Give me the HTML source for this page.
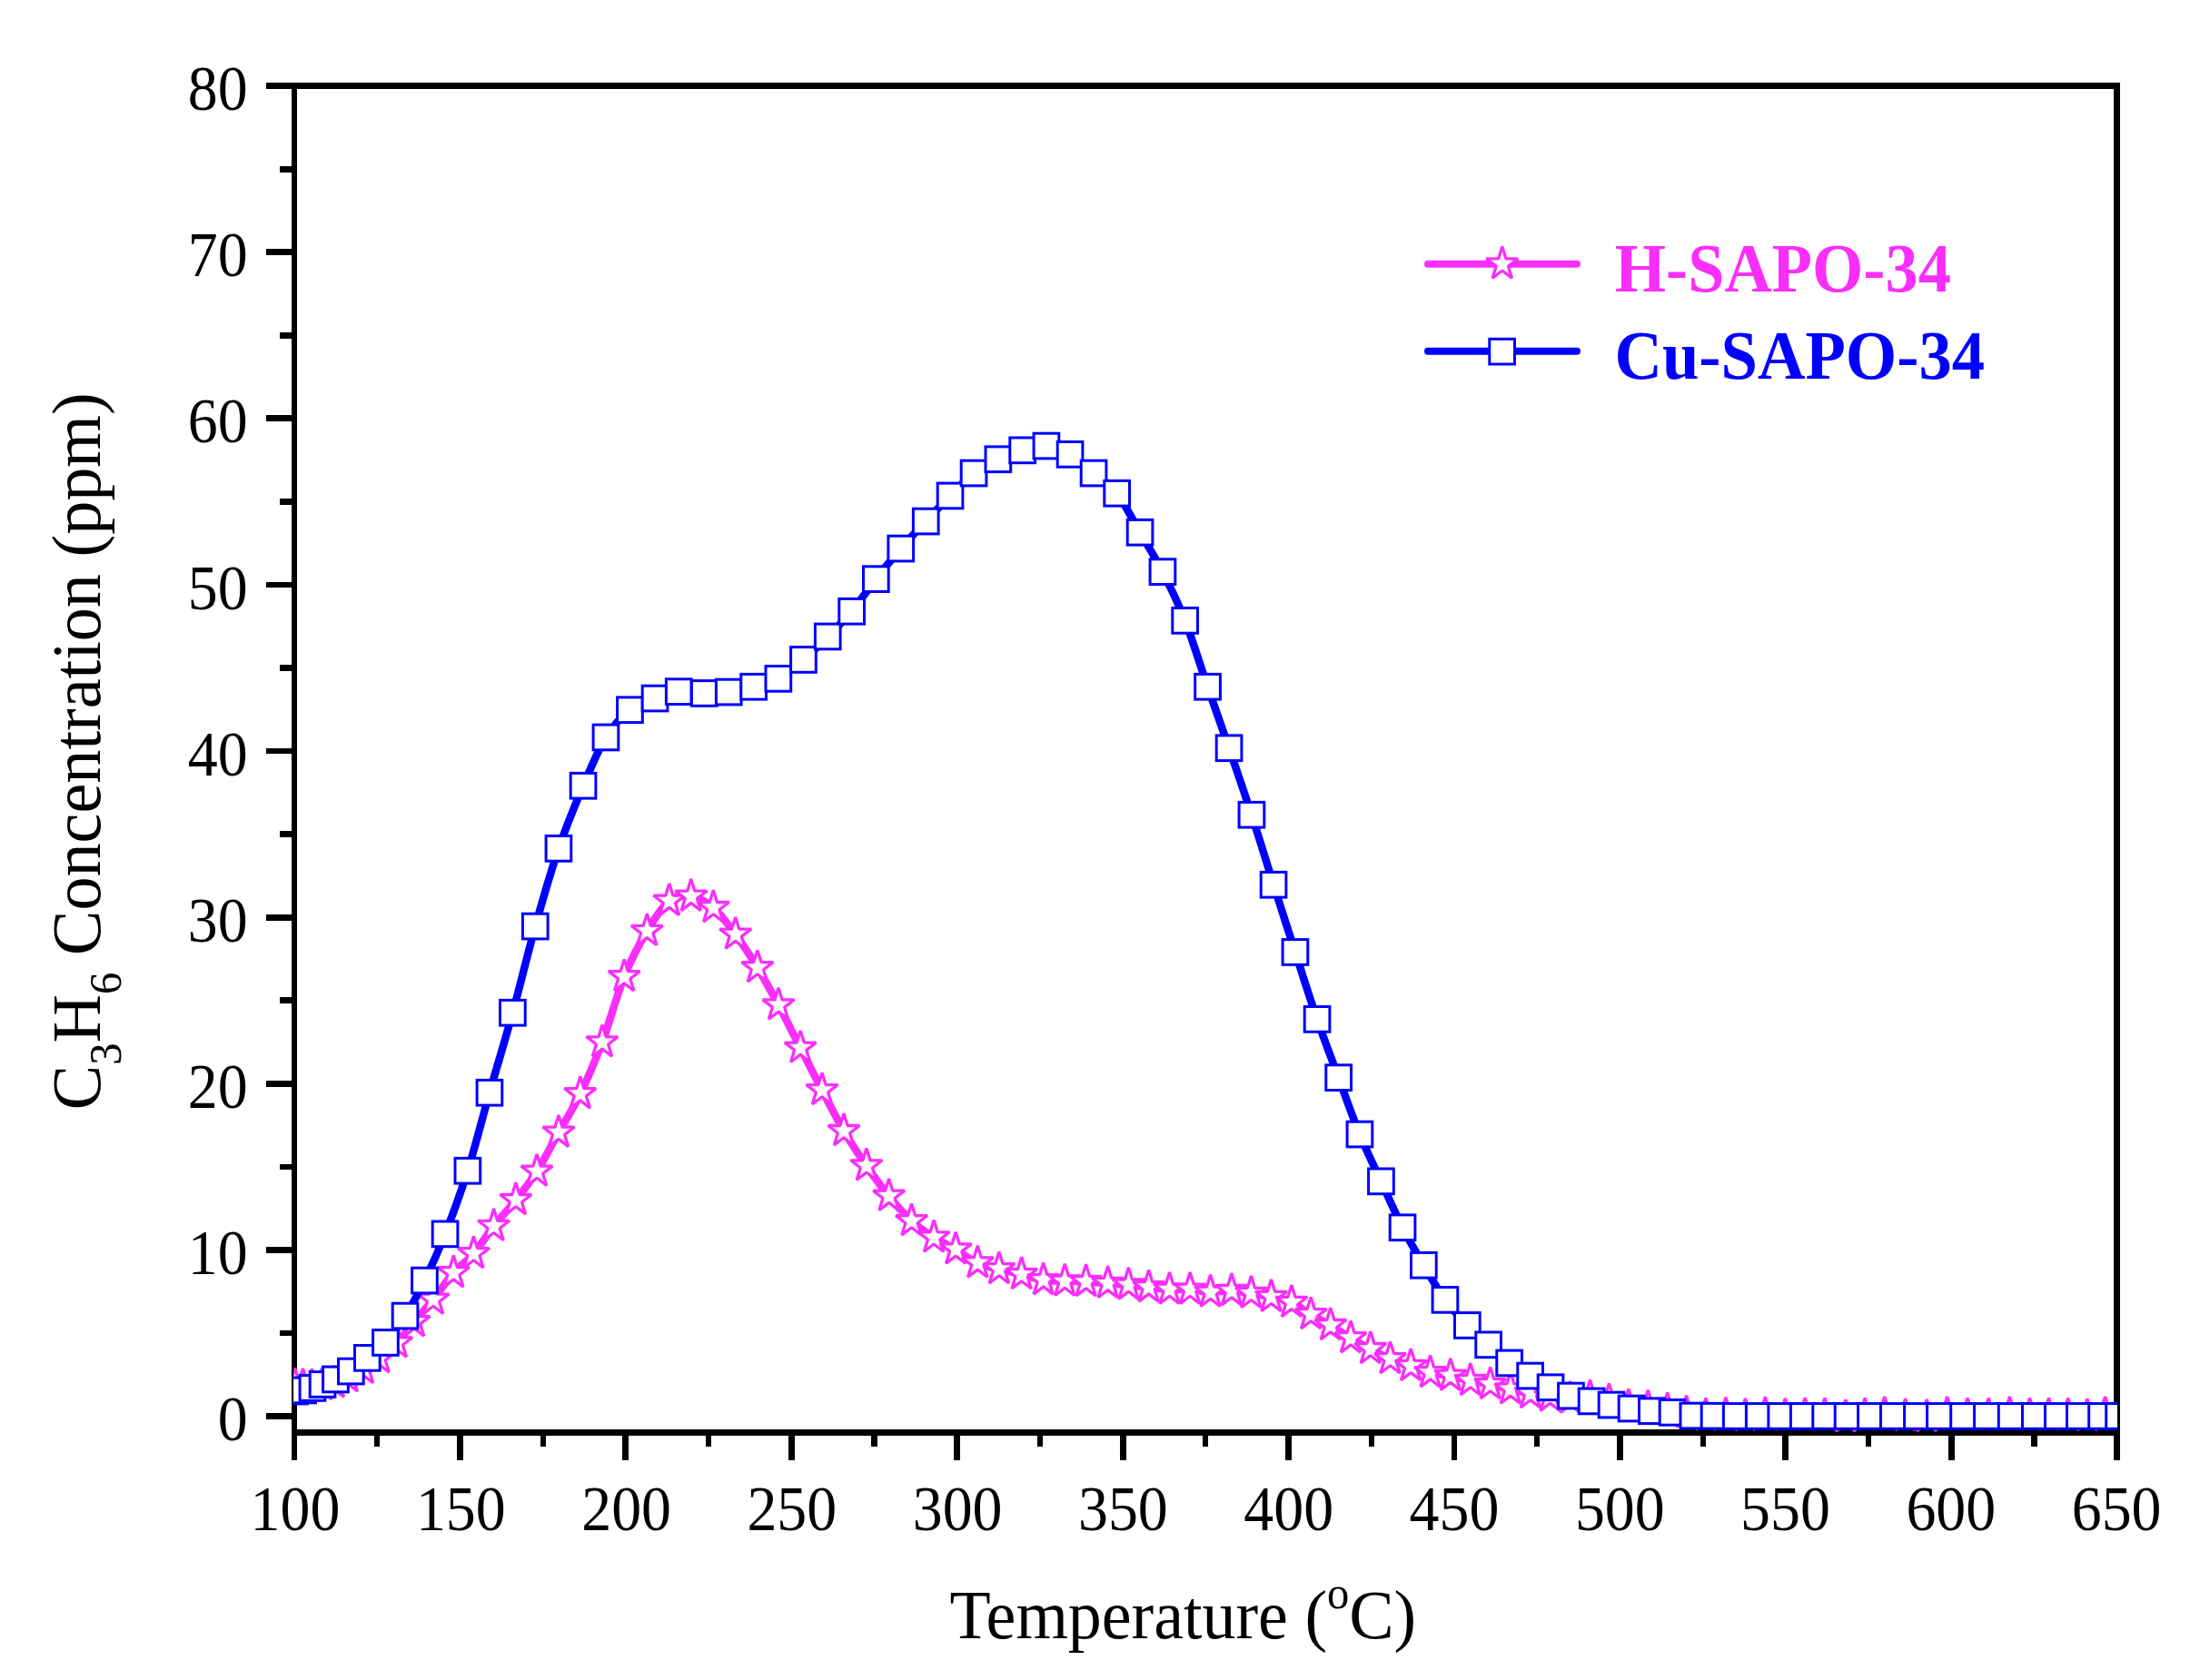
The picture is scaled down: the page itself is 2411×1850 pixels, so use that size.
<!DOCTYPE html>
<html lang="en"><head><meta charset="utf-8"><title>C3H6 Concentration vs Temperature</title>
<style>html,body{margin:0;padding:0;background:#fff}svg{display:block}text{font-family:"Liberation Serif","Times New Roman",serif;fill:#000}</style>
</head><body>
<svg width="2411" height="1850" viewBox="0 0 2411 1850" role="img" aria-label="C3H6 concentration versus temperature for H-SAPO-34 and Cu-SAPO-34">
<rect width="2411" height="1850" fill="#fff"/>
<defs>
<clipPath id="plot"><rect x="323.5" y="94" width="2007.5" height="1487.0"/></clipPath>
</defs>
<g fill="#000" shape-rendering="crispEdges">
<rect x="293" y="91" width="2041.0" height="7"/>
<rect x="321" y="1574.3" width="2013.0" height="6.8"/>
<rect x="321" y="91" width="6" height="1516.5"/>
<rect x="2327" y="91" width="7" height="1516.5"/>
<rect x="293" y="1556.0" width="30" height="6.8"/>
<rect x="308" y="1464.6" width="15" height="6.6"/>
<rect x="293" y="1372.9" width="30" height="6.8"/>
<rect x="308" y="1281.5" width="15" height="6.6"/>
<rect x="293" y="1189.8" width="30" height="6.8"/>
<rect x="308" y="1098.4" width="15" height="6.6"/>
<rect x="293" y="1006.7" width="30" height="6.8"/>
<rect x="308" y="915.3" width="15" height="6.6"/>
<rect x="293" y="823.6" width="30" height="6.8"/>
<rect x="308" y="732.2" width="15" height="6.6"/>
<rect x="293" y="640.5" width="30" height="6.8"/>
<rect x="308" y="549.1" width="15" height="6.6"/>
<rect x="293" y="457.4" width="30" height="6.8"/>
<rect x="308" y="366.0" width="15" height="6.6"/>
<rect x="293" y="274.3" width="30" height="6.8"/>
<rect x="308" y="182.9" width="15" height="6.6"/>
<rect x="412.1" y="1578" width="6.2" height="14.5"/>
<rect x="503.0" y="1578" width="6.8" height="29.5"/>
<rect x="594.5" y="1578" width="6.2" height="14.5"/>
<rect x="685.4" y="1578" width="6.8" height="29.5"/>
<rect x="776.9" y="1578" width="6.2" height="14.5"/>
<rect x="867.9" y="1578" width="6.8" height="29.5"/>
<rect x="959.4" y="1578" width="6.2" height="14.5"/>
<rect x="1050.3" y="1578" width="6.8" height="29.5"/>
<rect x="1141.8" y="1578" width="6.2" height="14.5"/>
<rect x="1232.7" y="1578" width="6.8" height="29.5"/>
<rect x="1324.2" y="1578" width="6.2" height="14.5"/>
<rect x="1415.1" y="1578" width="6.8" height="29.5"/>
<rect x="1506.6" y="1578" width="6.2" height="14.5"/>
<rect x="1597.5" y="1578" width="6.8" height="29.5"/>
<rect x="1689.0" y="1578" width="6.2" height="14.5"/>
<rect x="1779.9" y="1578" width="6.8" height="29.5"/>
<rect x="1871.5" y="1578" width="6.2" height="14.5"/>
<rect x="1962.4" y="1578" width="6.8" height="29.5"/>
<rect x="2053.9" y="1578" width="6.2" height="14.5"/>
<rect x="2144.8" y="1578" width="6.8" height="29.5"/>
<rect x="2236.3" y="1578" width="6.2" height="14.5"/>
</g>
<g font-size="69.0" text-anchor="end">
<text transform="translate(272.6,1586.0) scale(0.955,1)">0</text>
<text transform="translate(272.6,1402.9) scale(0.955,1)">10</text>
<text transform="translate(272.6,1219.8) scale(0.955,1)">20</text>
<text transform="translate(272.6,1036.7) scale(0.955,1)">30</text>
<text transform="translate(272.6,853.6) scale(0.955,1)">40</text>
<text transform="translate(272.6,670.5) scale(0.955,1)">50</text>
<text transform="translate(272.6,487.4) scale(0.955,1)">60</text>
<text transform="translate(272.6,304.3) scale(0.955,1)">70</text>
<text transform="translate(272.6,121.2) scale(0.955,1)">80</text>
</g>
<g font-size="69.0" text-anchor="middle">
<text transform="translate(325.0,1685.0) scale(0.955,1)">100</text>
<text transform="translate(507.3,1685.0) scale(0.955,1)">150</text>
<text transform="translate(689.6,1685.0) scale(0.955,1)">200</text>
<text transform="translate(871.8,1685.0) scale(0.955,1)">250</text>
<text transform="translate(1054.1,1685.0) scale(0.955,1)">300</text>
<text transform="translate(1236.4,1685.0) scale(0.955,1)">350</text>
<text transform="translate(1418.7,1685.0) scale(0.955,1)">400</text>
<text transform="translate(1601.0,1685.0) scale(0.955,1)">450</text>
<text transform="translate(1783.3,1685.0) scale(0.955,1)">500</text>
<text transform="translate(1965.5,1685.0) scale(0.955,1)">550</text>
<text transform="translate(2147.8,1685.0) scale(0.955,1)">600</text>
<text transform="translate(2330.1,1685.0) scale(0.955,1)">650</text>
</g>
<text transform="translate(1045.6,1803.6) scale(0.9725,1)" font-size="76">Temperature (<tspan font-size="50" dy="-33">o</tspan><tspan dy="33">C)</tspan></text>
<text transform="translate(110.3,1222.3) rotate(-90) scale(0.9755,1)" font-size="76">C<tspan font-size="50" dy="23">3</tspan><tspan dy="-23">H</tspan><tspan font-size="50" dy="23">6</tspan><tspan dy="-23"> Concentration (ppm)</tspan></text>
<g clip-path="url(#plot)">
<path fill="none" stroke="#F92EFB" stroke-width="8.5" stroke-linejoin="round" d="M324.6 1525.7 C326.1 1525.8 330.4 1526.1 333.5 1526.2 C336.6 1526.3 339.8 1526.7 343.3 1526.6 C346.8 1526.5 350.3 1526.1 354.4 1525.5 C358.5 1524.9 363.1 1524.3 367.8 1522.8 C372.5 1521.3 377.4 1519.0 382.8 1516.4 C388.2 1513.8 394.2 1510.8 400.0 1507.3 C405.8 1503.8 411.5 1500.3 417.6 1495.5 C423.7 1490.7 430.4 1485.4 436.8 1478.7 C443.2 1472.0 449.4 1463.5 456.1 1455.6 C462.8 1447.6 469.8 1440.0 477.0 1431.0 C484.2 1422.0 491.9 1410.0 499.3 1401.6 C506.7 1393.2 514.0 1389.1 521.4 1380.5 C528.8 1371.9 535.9 1360.0 543.6 1350.2 C551.4 1340.4 560.0 1331.4 567.9 1321.4 C575.8 1311.4 583.1 1302.4 591.0 1290.0 C598.9 1277.6 607.0 1261.3 615.0 1247.1 C623.0 1232.9 630.8 1221.2 638.8 1204.6 C646.8 1188.0 654.9 1169.2 663.0 1147.7 C671.1 1126.2 679.0 1095.9 687.2 1075.5 C695.4 1055.1 704.0 1039.2 712.3 1025.3 C720.6 1011.4 728.8 998.5 736.9 992.1 C745.0 985.7 752.7 985.9 760.8 987.1 C768.9 988.3 777.1 992.4 785.3 999.4 C793.4 1006.4 801.6 1018.0 809.7 1029.0 C817.8 1040.0 826.0 1052.5 833.9 1065.5 C841.8 1078.5 849.1 1092.0 857.0 1106.8 C864.9 1121.5 873.2 1138.4 881.2 1154.0 C889.2 1169.6 897.0 1185.3 905.0 1200.5 C913.0 1215.7 920.9 1231.5 929.0 1245.4 C937.1 1259.3 945.6 1271.8 953.9 1283.7 C962.2 1295.7 970.3 1307.0 978.6 1317.1 C986.9 1327.2 995.2 1336.9 1003.5 1344.5 C1011.8 1352.1 1020.0 1357.5 1028.1 1362.7 C1036.2 1367.9 1044.2 1371.1 1052.2 1375.8 C1060.2 1380.5 1068.3 1387.2 1076.3 1390.8 C1084.2 1394.4 1091.9 1395.4 1099.9 1397.5 C1108.0 1399.6 1116.5 1401.4 1124.6 1403.4 C1132.7 1405.4 1140.8 1408.3 1148.7 1409.6 C1156.6 1410.8 1164.4 1410.6 1172.2 1410.9 C1180.0 1411.2 1187.6 1411.0 1195.5 1411.4 C1203.4 1411.8 1211.8 1412.7 1219.6 1413.3 C1227.4 1413.9 1234.9 1414.2 1242.4 1414.9 C1249.9 1415.6 1257.1 1416.8 1264.6 1417.6 C1272.1 1418.4 1279.9 1419.6 1287.5 1420.0 C1295.1 1420.4 1302.6 1419.5 1310.1 1420.0 C1317.6 1420.5 1325.0 1422.7 1332.6 1422.9 C1340.2 1423.1 1348.4 1421.2 1355.9 1421.4 C1363.4 1421.6 1370.1 1423.1 1377.4 1424.2 C1384.7 1425.3 1392.1 1426.5 1399.5 1428.2 C1406.9 1429.9 1414.6 1431.0 1421.9 1434.2 C1429.2 1437.4 1436.1 1443.3 1443.2 1447.5 C1450.3 1451.7 1457.5 1455.1 1464.8 1459.4 C1472.1 1463.8 1479.7 1469.3 1487.0 1473.6 C1494.3 1477.9 1501.5 1481.6 1508.8 1485.4 C1516.0 1489.2 1523.1 1493.3 1530.5 1496.5 C1537.9 1499.7 1545.9 1501.8 1553.2 1504.3 C1560.5 1506.8 1567.3 1509.8 1574.6 1511.6 C1581.9 1513.4 1589.4 1513.6 1596.8 1515.1 C1604.2 1516.6 1611.5 1518.8 1618.8 1520.4 C1626.1 1522.0 1633.3 1522.9 1640.7 1524.5 C1648.1 1526.1 1655.5 1528.1 1662.9 1529.8 C1670.3 1531.5 1677.6 1533.1 1684.9 1534.4 C1692.2 1535.8 1699.3 1537.0 1706.6 1537.9 C1713.9 1538.8 1721.3 1539.9 1728.6 1540.0 C1735.9 1540.1 1743.4 1538.2 1750.5 1538.7 C1757.6 1539.2 1764.3 1541.1 1771.4 1542.7 C1778.5 1544.3 1785.8 1547.4 1792.9 1548.6 C1800.1 1549.8 1807.2 1549.2 1814.3 1549.9 C1821.4 1550.6 1828.7 1551.6 1835.7 1552.6 C1842.8 1553.6 1849.5 1554.9 1856.6 1555.9 C1863.6 1556.9 1870.8 1558.3 1878.0 1558.6 C1885.2 1558.9 1892.8 1557.7 1900.0 1557.8 C1907.2 1557.9 1914.2 1559.2 1921.4 1559.1 C1928.6 1559.0 1936.1 1557.3 1943.4 1557.3 C1950.7 1557.2 1958.0 1558.6 1965.3 1558.8 C1972.6 1559.0 1979.9 1558.3 1987.2 1558.3 C1994.5 1558.2 2001.5 1558.2 2009.0 1558.5 C2016.5 1558.8 2024.6 1560.4 2031.9 1560.4 C2039.2 1560.4 2046.0 1559.1 2053.1 1558.5 C2060.2 1557.9 2067.3 1556.9 2074.7 1557.0 C2082.1 1557.1 2089.9 1558.8 2097.6 1559.3 C2105.3 1559.8 2113.4 1560.6 2121.1 1560.2 C2128.8 1559.8 2136.1 1557.3 2143.6 1557.0 C2151.1 1556.7 2158.5 1558.2 2166.1 1558.5 C2173.7 1558.8 2181.5 1558.8 2189.2 1558.5 C2196.9 1558.2 2204.9 1557.0 2212.5 1557.0 C2220.1 1557.0 2227.4 1558.2 2234.6 1558.5 C2241.8 1558.8 2248.6 1558.5 2255.6 1558.5 C2262.6 1558.5 2269.8 1558.4 2276.8 1558.5 C2283.9 1558.6 2291.1 1559.5 2297.9 1559.3 C2304.7 1559.0 2310.9 1557.2 2317.6 1557.0 C2324.3 1556.8 2334.6 1558.1 2338.0 1558.3"/>
<g fill="#fff" stroke="#F92EFB" stroke-width="3.3" stroke-linejoin="bevel">
<path d="M324.6 1506.6L328.7 1519.8L341.9 1519.8L331.2 1528.0L335.3 1541.2L324.6 1533.0L313.9 1541.2L318.0 1528.0L307.3 1519.8L320.5 1519.8Z"/>
<path d="M333.5 1507.1L337.6 1520.3L350.8 1520.3L340.1 1528.5L344.2 1541.7L333.5 1533.5L322.8 1541.7L326.9 1528.5L316.2 1520.3L329.4 1520.3Z"/>
<path d="M343.3 1507.5L347.4 1520.7L360.6 1520.7L349.9 1528.9L354.0 1542.1L343.3 1533.9L332.6 1542.1L336.7 1528.9L326.0 1520.7L339.2 1520.7Z"/>
<path d="M354.4 1506.4L358.5 1519.6L371.7 1519.6L361.0 1527.8L365.1 1541.0L354.4 1532.8L343.7 1541.0L347.8 1527.8L337.1 1519.6L350.3 1519.6Z"/>
<path d="M367.8 1503.7L371.9 1516.9L385.1 1516.9L374.4 1525.1L378.5 1538.3L367.8 1530.1L357.1 1538.3L361.2 1525.1L350.5 1516.9L363.7 1516.9Z"/>
<path d="M382.8 1497.3L386.9 1510.5L400.1 1510.5L389.4 1518.7L393.5 1531.9L382.8 1523.7L372.1 1531.9L376.2 1518.7L365.5 1510.5L378.7 1510.5Z"/>
<path d="M400.0 1488.2L404.1 1501.4L417.3 1501.4L406.6 1509.6L410.7 1522.8L400.0 1514.6L389.3 1522.8L393.4 1509.6L382.7 1501.4L395.9 1501.4Z"/>
<path d="M417.6 1476.4L421.7 1489.6L434.9 1489.6L424.2 1497.8L428.3 1511.0L417.6 1502.8L406.9 1511.0L411.0 1497.8L400.3 1489.6L413.5 1489.6Z"/>
<path d="M436.8 1459.6L440.9 1472.8L454.1 1472.8L443.4 1481.0L447.5 1494.2L436.8 1486.0L426.1 1494.2L430.2 1481.0L419.5 1472.8L432.7 1472.8Z"/>
<path d="M456.1 1436.5L460.2 1449.7L473.4 1449.7L462.7 1457.9L466.8 1471.1L456.1 1462.9L445.4 1471.1L449.5 1457.9L438.8 1449.7L452.0 1449.7Z"/>
<path d="M477.0 1411.9L481.1 1425.1L494.3 1425.1L483.6 1433.3L487.7 1446.5L477.0 1438.3L466.3 1446.5L470.4 1433.3L459.7 1425.1L472.9 1425.1Z"/>
<path d="M499.3 1382.5L503.4 1395.7L516.6 1395.7L505.9 1403.9L510.0 1417.1L499.3 1408.9L488.6 1417.1L492.7 1403.9L482.0 1395.7L495.2 1395.7Z"/>
<path d="M521.4 1361.4L525.5 1374.6L538.7 1374.6L528.0 1382.8L532.1 1396.0L521.4 1387.8L510.7 1396.0L514.8 1382.8L504.1 1374.6L517.3 1374.6Z"/>
<path d="M543.6 1331.1L547.7 1344.3L560.9 1344.3L550.2 1352.5L554.3 1365.7L543.6 1357.5L532.9 1365.7L537.0 1352.5L526.3 1344.3L539.5 1344.3Z"/>
<path d="M567.9 1302.3L572.0 1315.5L585.2 1315.5L574.5 1323.7L578.6 1336.9L567.9 1328.7L557.2 1336.9L561.3 1323.7L550.6 1315.5L563.8 1315.5Z"/>
<path d="M591.0 1270.9L595.1 1284.1L608.3 1284.1L597.6 1292.3L601.7 1305.5L591.0 1297.3L580.3 1305.5L584.4 1292.3L573.7 1284.1L586.9 1284.1Z"/>
<path d="M615.0 1228.0L619.1 1241.2L632.3 1241.2L621.6 1249.4L625.7 1262.6L615.0 1254.4L604.3 1262.6L608.4 1249.4L597.7 1241.2L610.9 1241.2Z"/>
<path d="M638.8 1185.5L642.9 1198.7L656.1 1198.7L645.4 1206.9L649.5 1220.1L638.8 1211.9L628.1 1220.1L632.2 1206.9L621.5 1198.7L634.7 1198.7Z"/>
<path d="M663.0 1128.6L667.1 1141.8L680.3 1141.8L669.6 1150.0L673.7 1163.2L663.0 1155.0L652.3 1163.2L656.4 1150.0L645.7 1141.8L658.9 1141.8Z"/>
<path d="M687.2 1056.4L691.3 1069.6L704.5 1069.6L693.8 1077.8L697.9 1091.0L687.2 1082.8L676.5 1091.0L680.6 1077.8L669.9 1069.6L683.1 1069.6Z"/>
<path d="M712.3 1006.2L716.4 1019.4L729.6 1019.4L718.9 1027.6L723.0 1040.8L712.3 1032.6L701.6 1040.8L705.7 1027.6L695.0 1019.4L708.2 1019.4Z"/>
<path d="M736.9 973.0L741.0 986.2L754.2 986.2L743.5 994.4L747.6 1007.6L736.9 999.4L726.2 1007.6L730.3 994.4L719.6 986.2L732.8 986.2Z"/>
<path d="M760.8 968.0L764.9 981.2L778.1 981.2L767.4 989.4L771.5 1002.6L760.8 994.4L750.1 1002.6L754.2 989.4L743.5 981.2L756.7 981.2Z"/>
<path d="M785.3 980.3L789.4 993.5L802.6 993.5L791.9 1001.7L796.0 1014.9L785.3 1006.7L774.6 1014.9L778.7 1001.7L768.0 993.5L781.2 993.5Z"/>
<path d="M809.7 1009.9L813.8 1023.1L827.0 1023.1L816.3 1031.3L820.4 1044.5L809.7 1036.3L799.0 1044.5L803.1 1031.3L792.4 1023.1L805.6 1023.1Z"/>
<path d="M833.9 1046.4L838.0 1059.6L851.2 1059.6L840.5 1067.8L844.6 1081.0L833.9 1072.8L823.2 1081.0L827.3 1067.8L816.6 1059.6L829.8 1059.6Z"/>
<path d="M857.0 1087.7L861.1 1100.9L874.3 1100.9L863.6 1109.1L867.7 1122.3L857.0 1114.1L846.3 1122.3L850.4 1109.1L839.7 1100.9L852.9 1100.9Z"/>
<path d="M881.2 1134.9L885.3 1148.1L898.5 1148.1L887.8 1156.3L891.9 1169.5L881.2 1161.3L870.5 1169.5L874.6 1156.3L863.9 1148.1L877.1 1148.1Z"/>
<path d="M905.0 1181.4L909.1 1194.6L922.3 1194.6L911.6 1202.8L915.7 1216.0L905.0 1207.8L894.3 1216.0L898.4 1202.8L887.7 1194.6L900.9 1194.6Z"/>
<path d="M929.0 1226.3L933.1 1239.5L946.3 1239.5L935.6 1247.7L939.7 1260.9L929.0 1252.7L918.3 1260.9L922.4 1247.7L911.7 1239.5L924.9 1239.5Z"/>
<path d="M953.9 1264.6L958.0 1277.8L971.2 1277.8L960.5 1286.0L964.6 1299.2L953.9 1291.0L943.2 1299.2L947.3 1286.0L936.6 1277.8L949.8 1277.8Z"/>
<path d="M978.6 1298.0L982.7 1311.2L995.9 1311.2L985.2 1319.4L989.3 1332.6L978.6 1324.4L967.9 1332.6L972.0 1319.4L961.3 1311.2L974.5 1311.2Z"/>
<path d="M1003.5 1325.4L1007.6 1338.6L1020.8 1338.6L1010.1 1346.8L1014.2 1360.0L1003.5 1351.8L992.8 1360.0L996.9 1346.8L986.2 1338.6L999.4 1338.6Z"/>
<path d="M1028.1 1343.6L1032.2 1356.8L1045.4 1356.8L1034.7 1365.0L1038.8 1378.2L1028.1 1370.0L1017.4 1378.2L1021.5 1365.0L1010.8 1356.8L1024.0 1356.8Z"/>
<path d="M1052.2 1356.7L1056.3 1369.9L1069.5 1369.9L1058.8 1378.1L1062.9 1391.3L1052.2 1383.1L1041.5 1391.3L1045.6 1378.1L1034.9 1369.9L1048.1 1369.9Z"/>
<path d="M1076.3 1371.7L1080.4 1384.9L1093.6 1384.9L1082.9 1393.1L1087.0 1406.3L1076.3 1398.1L1065.6 1406.3L1069.7 1393.1L1059.0 1384.9L1072.2 1384.9Z"/>
<path d="M1099.9 1378.4L1104.0 1391.6L1117.2 1391.6L1106.5 1399.8L1110.6 1413.0L1099.9 1404.8L1089.2 1413.0L1093.3 1399.8L1082.6 1391.6L1095.8 1391.6Z"/>
<path d="M1124.6 1384.3L1128.7 1397.5L1141.9 1397.5L1131.2 1405.7L1135.3 1418.9L1124.6 1410.7L1113.9 1418.9L1118.0 1405.7L1107.3 1397.5L1120.5 1397.5Z"/>
<path d="M1148.7 1390.5L1152.8 1403.7L1166.0 1403.7L1155.3 1411.9L1159.4 1425.1L1148.7 1416.9L1138.0 1425.1L1142.1 1411.9L1131.4 1403.7L1144.6 1403.7Z"/>
<path d="M1172.2 1391.8L1176.3 1405.0L1189.5 1405.0L1178.8 1413.2L1182.9 1426.4L1172.2 1418.2L1161.5 1426.4L1165.6 1413.2L1154.9 1405.0L1168.1 1405.0Z"/>
<path d="M1195.5 1392.3L1199.6 1405.5L1212.8 1405.5L1202.1 1413.7L1206.2 1426.9L1195.5 1418.7L1184.8 1426.9L1188.9 1413.7L1178.2 1405.5L1191.4 1405.5Z"/>
<path d="M1219.6 1394.2L1223.7 1407.4L1236.9 1407.4L1226.2 1415.6L1230.3 1428.8L1219.6 1420.6L1208.9 1428.8L1213.0 1415.6L1202.3 1407.4L1215.5 1407.4Z"/>
<path d="M1242.4 1395.8L1246.5 1409.0L1259.7 1409.0L1249.0 1417.2L1253.1 1430.4L1242.4 1422.2L1231.7 1430.4L1235.8 1417.2L1225.1 1409.0L1238.3 1409.0Z"/>
<path d="M1264.6 1398.5L1268.7 1411.7L1281.9 1411.7L1271.2 1419.9L1275.3 1433.1L1264.6 1424.9L1253.9 1433.1L1258.0 1419.9L1247.3 1411.7L1260.5 1411.7Z"/>
<path d="M1287.5 1400.9L1291.6 1414.1L1304.8 1414.1L1294.1 1422.3L1298.2 1435.5L1287.5 1427.3L1276.8 1435.5L1280.9 1422.3L1270.2 1414.1L1283.4 1414.1Z"/>
<path d="M1310.1 1400.9L1314.2 1414.1L1327.4 1414.1L1316.7 1422.3L1320.8 1435.5L1310.1 1427.3L1299.4 1435.5L1303.5 1422.3L1292.8 1414.1L1306.0 1414.1Z"/>
<path d="M1332.6 1403.8L1336.7 1417.0L1349.9 1417.0L1339.2 1425.2L1343.3 1438.4L1332.6 1430.2L1321.9 1438.4L1326.0 1425.2L1315.3 1417.0L1328.5 1417.0Z"/>
<path d="M1355.9 1402.3L1360.0 1415.5L1373.2 1415.5L1362.5 1423.7L1366.6 1436.9L1355.9 1428.7L1345.2 1436.9L1349.3 1423.7L1338.6 1415.5L1351.8 1415.5Z"/>
<path d="M1377.4 1405.1L1381.5 1418.3L1394.7 1418.3L1384.0 1426.5L1388.1 1439.7L1377.4 1431.5L1366.7 1439.7L1370.8 1426.5L1360.1 1418.3L1373.3 1418.3Z"/>
<path d="M1399.5 1409.1L1403.6 1422.3L1416.8 1422.3L1406.1 1430.5L1410.2 1443.7L1399.5 1435.5L1388.8 1443.7L1392.9 1430.5L1382.2 1422.3L1395.4 1422.3Z"/>
<path d="M1421.9 1415.1L1426.0 1428.3L1439.2 1428.3L1428.5 1436.5L1432.6 1449.7L1421.9 1441.5L1411.2 1449.7L1415.3 1436.5L1404.6 1428.3L1417.8 1428.3Z"/>
<path d="M1443.2 1428.4L1447.3 1441.6L1460.5 1441.6L1449.8 1449.8L1453.9 1463.0L1443.2 1454.8L1432.5 1463.0L1436.6 1449.8L1425.9 1441.6L1439.1 1441.6Z"/>
<path d="M1464.8 1440.3L1468.9 1453.5L1482.1 1453.5L1471.4 1461.7L1475.5 1474.9L1464.8 1466.7L1454.1 1474.9L1458.2 1461.7L1447.5 1453.5L1460.7 1453.5Z"/>
<path d="M1487.0 1454.5L1491.1 1467.7L1504.3 1467.7L1493.6 1475.9L1497.7 1489.1L1487.0 1480.9L1476.3 1489.1L1480.4 1475.9L1469.7 1467.7L1482.9 1467.7Z"/>
<path d="M1508.8 1466.3L1512.9 1479.5L1526.1 1479.5L1515.4 1487.7L1519.5 1500.9L1508.8 1492.7L1498.1 1500.9L1502.2 1487.7L1491.5 1479.5L1504.7 1479.5Z"/>
<path d="M1530.5 1477.4L1534.6 1490.6L1547.8 1490.6L1537.1 1498.8L1541.2 1512.0L1530.5 1503.8L1519.8 1512.0L1523.9 1498.8L1513.2 1490.6L1526.4 1490.6Z"/>
<path d="M1553.2 1485.2L1557.3 1498.4L1570.5 1498.4L1559.8 1506.6L1563.9 1519.8L1553.2 1511.6L1542.5 1519.8L1546.6 1506.6L1535.9 1498.4L1549.1 1498.4Z"/>
<path d="M1574.6 1492.5L1578.7 1505.7L1591.9 1505.7L1581.2 1513.9L1585.3 1527.1L1574.6 1518.9L1563.9 1527.1L1568.0 1513.9L1557.3 1505.7L1570.5 1505.7Z"/>
<path d="M1596.8 1496.0L1600.9 1509.2L1614.1 1509.2L1603.4 1517.4L1607.5 1530.6L1596.8 1522.4L1586.1 1530.6L1590.2 1517.4L1579.5 1509.2L1592.7 1509.2Z"/>
<path d="M1618.8 1501.3L1622.9 1514.5L1636.1 1514.5L1625.4 1522.7L1629.5 1535.9L1618.8 1527.7L1608.1 1535.9L1612.2 1522.7L1601.5 1514.5L1614.7 1514.5Z"/>
<path d="M1640.7 1505.4L1644.8 1518.6L1658.0 1518.6L1647.3 1526.8L1651.4 1540.0L1640.7 1531.8L1630.0 1540.0L1634.1 1526.8L1623.4 1518.6L1636.6 1518.6Z"/>
<path d="M1662.9 1510.7L1667.0 1523.9L1680.2 1523.9L1669.5 1532.1L1673.6 1545.3L1662.9 1537.1L1652.2 1545.3L1656.3 1532.1L1645.6 1523.9L1658.8 1523.9Z"/>
<path d="M1684.9 1515.3L1689.0 1528.5L1702.2 1528.5L1691.5 1536.7L1695.6 1549.9L1684.9 1541.7L1674.2 1549.9L1678.3 1536.7L1667.6 1528.5L1680.8 1528.5Z"/>
<path d="M1706.6 1518.8L1710.7 1532.0L1723.9 1532.0L1713.2 1540.2L1717.3 1553.4L1706.6 1545.2L1695.9 1553.4L1700.0 1540.2L1689.3 1532.0L1702.5 1532.0Z"/>
<path d="M1728.6 1520.9L1732.7 1534.1L1745.9 1534.1L1735.2 1542.3L1739.3 1555.5L1728.6 1547.3L1717.9 1555.5L1722.0 1542.3L1711.3 1534.1L1724.5 1534.1Z"/>
<path d="M1750.5 1519.6L1754.6 1532.8L1767.8 1532.8L1757.1 1541.0L1761.2 1554.2L1750.5 1546.0L1739.8 1554.2L1743.9 1541.0L1733.2 1532.8L1746.4 1532.8Z"/>
<path d="M1771.4 1523.6L1775.5 1536.8L1788.7 1536.8L1778.0 1545.0L1782.1 1558.2L1771.4 1550.0L1760.7 1558.2L1764.8 1545.0L1754.1 1536.8L1767.3 1536.8Z"/>
<path d="M1792.9 1529.5L1797.0 1542.7L1810.2 1542.7L1799.5 1550.9L1803.6 1564.1L1792.9 1555.9L1782.2 1564.1L1786.3 1550.9L1775.6 1542.7L1788.8 1542.7Z"/>
<path d="M1814.3 1530.8L1818.4 1544.0L1831.6 1544.0L1820.9 1552.2L1825.0 1565.4L1814.3 1557.2L1803.6 1565.4L1807.7 1552.2L1797.0 1544.0L1810.2 1544.0Z"/>
<path d="M1835.7 1533.5L1839.8 1546.7L1853.0 1546.7L1842.3 1554.9L1846.4 1568.1L1835.7 1559.9L1825.0 1568.1L1829.1 1554.9L1818.4 1546.7L1831.6 1546.7Z"/>
<path d="M1856.6 1536.8L1860.7 1550.0L1873.9 1550.0L1863.2 1558.2L1867.3 1571.4L1856.6 1563.2L1845.9 1571.4L1850.0 1558.2L1839.3 1550.0L1852.5 1550.0Z"/>
<path d="M1878.0 1539.5L1882.1 1552.7L1895.3 1552.7L1884.6 1560.9L1888.7 1574.1L1878.0 1565.9L1867.3 1574.1L1871.4 1560.9L1860.7 1552.7L1873.9 1552.7Z"/>
<path d="M1900.0 1538.7L1904.1 1551.9L1917.3 1551.9L1906.6 1560.1L1910.7 1573.3L1900.0 1565.1L1889.3 1573.3L1893.4 1560.1L1882.7 1551.9L1895.9 1551.9Z"/>
<path d="M1921.4 1540.0L1925.5 1553.2L1938.7 1553.2L1928.0 1561.4L1932.1 1574.6L1921.4 1566.4L1910.7 1574.6L1914.8 1561.4L1904.1 1553.2L1917.3 1553.2Z"/>
<path d="M1943.4 1538.2L1947.5 1551.4L1960.7 1551.4L1950.0 1559.6L1954.1 1572.8L1943.4 1564.6L1932.7 1572.8L1936.8 1559.6L1926.1 1551.4L1939.3 1551.4Z"/>
<path d="M1965.3 1539.7L1969.4 1552.9L1982.6 1552.9L1971.9 1561.1L1976.0 1574.3L1965.3 1566.1L1954.6 1574.3L1958.7 1561.1L1948.0 1552.9L1961.2 1552.9Z"/>
<path d="M1987.2 1539.2L1991.3 1552.4L2004.5 1552.4L1993.8 1560.6L1997.9 1573.8L1987.2 1565.6L1976.5 1573.8L1980.6 1560.6L1969.9 1552.4L1983.1 1552.4Z"/>
<path d="M2009.0 1539.4L2013.1 1552.6L2026.3 1552.6L2015.6 1560.8L2019.7 1574.0L2009.0 1565.8L1998.3 1574.0L2002.4 1560.8L1991.7 1552.6L2004.9 1552.6Z"/>
<path d="M2031.9 1541.3L2036.0 1554.5L2049.2 1554.5L2038.5 1562.7L2042.6 1575.9L2031.9 1567.7L2021.2 1575.9L2025.3 1562.7L2014.6 1554.5L2027.8 1554.5Z"/>
<path d="M2053.1 1539.4L2057.2 1552.6L2070.4 1552.6L2059.7 1560.8L2063.8 1574.0L2053.1 1565.8L2042.4 1574.0L2046.5 1560.8L2035.8 1552.6L2049.0 1552.6Z"/>
<path d="M2074.7 1537.9L2078.8 1551.1L2092.0 1551.1L2081.3 1559.3L2085.4 1572.5L2074.7 1564.3L2064.0 1572.5L2068.1 1559.3L2057.4 1551.1L2070.6 1551.1Z"/>
<path d="M2097.6 1540.2L2101.7 1553.4L2114.9 1553.4L2104.2 1561.6L2108.3 1574.8L2097.6 1566.6L2086.9 1574.8L2091.0 1561.6L2080.3 1553.4L2093.5 1553.4Z"/>
<path d="M2121.1 1541.1L2125.2 1554.3L2138.4 1554.3L2127.7 1562.5L2131.8 1575.7L2121.1 1567.5L2110.4 1575.7L2114.5 1562.5L2103.8 1554.3L2117.0 1554.3Z"/>
<path d="M2143.6 1537.9L2147.7 1551.1L2160.9 1551.1L2150.2 1559.3L2154.3 1572.5L2143.6 1564.3L2132.9 1572.5L2137.0 1559.3L2126.3 1551.1L2139.5 1551.1Z"/>
<path d="M2166.1 1539.4L2170.2 1552.6L2183.4 1552.6L2172.7 1560.8L2176.8 1574.0L2166.1 1565.8L2155.4 1574.0L2159.5 1560.8L2148.8 1552.6L2162.0 1552.6Z"/>
<path d="M2189.2 1539.4L2193.3 1552.6L2206.5 1552.6L2195.8 1560.8L2199.9 1574.0L2189.2 1565.8L2178.5 1574.0L2182.6 1560.8L2171.9 1552.6L2185.1 1552.6Z"/>
<path d="M2212.5 1537.9L2216.6 1551.1L2229.8 1551.1L2219.1 1559.3L2223.2 1572.5L2212.5 1564.3L2201.8 1572.5L2205.9 1559.3L2195.2 1551.1L2208.4 1551.1Z"/>
<path d="M2234.6 1539.4L2238.7 1552.6L2251.9 1552.6L2241.2 1560.8L2245.3 1574.0L2234.6 1565.8L2223.9 1574.0L2228.0 1560.8L2217.3 1552.6L2230.5 1552.6Z"/>
<path d="M2255.6 1539.4L2259.7 1552.6L2272.9 1552.6L2262.2 1560.8L2266.3 1574.0L2255.6 1565.8L2244.9 1574.0L2249.0 1560.8L2238.3 1552.6L2251.5 1552.6Z"/>
<path d="M2276.8 1539.4L2280.9 1552.6L2294.1 1552.6L2283.4 1560.8L2287.5 1574.0L2276.8 1565.8L2266.1 1574.0L2270.2 1560.8L2259.5 1552.6L2272.7 1552.6Z"/>
<path d="M2297.9 1540.2L2302.0 1553.4L2315.2 1553.4L2304.5 1561.6L2308.6 1574.8L2297.9 1566.6L2287.2 1574.8L2291.3 1561.6L2280.6 1553.4L2293.8 1553.4Z"/>
<path d="M2317.6 1537.9L2321.7 1551.1L2334.9 1551.1L2324.2 1559.3L2328.3 1572.5L2317.6 1564.3L2306.9 1572.5L2311.0 1559.3L2300.3 1551.1L2313.5 1551.1Z"/>
<path d="M2338.0 1539.2L2342.1 1552.4L2355.3 1552.4L2344.6 1560.6L2348.7 1573.8L2338.0 1565.6L2327.3 1573.8L2331.4 1560.6L2320.7 1552.4L2333.9 1552.4Z"/>
</g>
<path fill="none" stroke="#0000FF" stroke-width="8.5" stroke-linejoin="round" d="M324.6 1532.0 C326.1 1531.8 330.5 1531.5 333.7 1530.9 C336.9 1530.3 340.4 1529.5 344.0 1528.4 C347.6 1527.3 350.9 1526.0 355.1 1524.4 C359.4 1522.8 364.3 1521.3 369.5 1518.9 C374.7 1516.5 380.6 1513.9 386.4 1510.0 C392.2 1506.1 398.0 1500.6 404.4 1495.3 C410.8 1490.0 417.6 1486.1 424.5 1478.4 C431.4 1470.7 438.9 1460.4 446.1 1449.0 C453.3 1437.6 460.2 1425.1 467.5 1410.1 C474.8 1395.1 482.2 1378.9 490.1 1358.8 C498.0 1338.7 506.8 1315.1 514.9 1289.2 C523.0 1263.3 530.8 1232.2 539.0 1203.2 C547.2 1174.2 556.0 1145.7 564.4 1115.2 C572.8 1084.7 580.9 1050.2 589.3 1020.1 C597.7 990.0 606.2 960.2 615.0 934.4 C623.8 908.6 633.4 885.7 642.1 865.3 C650.8 844.9 658.4 825.9 667.0 812.0 C675.6 798.1 684.5 788.9 693.5 781.7 C702.5 774.6 712.1 772.5 721.1 769.1 C730.1 765.8 738.3 762.5 747.3 761.6 C756.3 760.7 766.1 763.4 775.2 763.5 C784.4 763.6 793.1 763.3 802.2 762.1 C811.3 760.9 820.5 758.8 829.6 756.3 C838.7 753.8 847.8 752.4 856.9 747.4 C866.0 742.4 875.4 734.2 884.5 726.5 C893.6 718.8 902.4 709.9 911.3 701.0 C920.1 692.1 928.8 683.8 937.6 673.2 C946.5 662.6 955.4 649.1 964.4 637.6 C973.4 626.1 982.6 614.7 991.7 604.1 C1000.9 593.5 1010.2 583.8 1019.3 574.1 C1028.4 564.4 1037.3 554.8 1046.1 546.0 C1054.9 537.2 1063.3 527.8 1072.1 521.1 C1080.9 514.4 1089.9 510.0 1098.8 505.8 C1107.7 501.6 1116.8 498.3 1125.6 495.9 C1134.4 493.4 1143.2 490.4 1151.9 491.1 C1160.7 491.9 1169.4 495.4 1178.1 500.4 C1186.8 505.4 1195.5 514.0 1204.1 521.1 C1212.7 528.2 1221.1 532.4 1229.6 543.3 C1238.1 554.1 1246.6 571.8 1255.0 586.2 C1263.4 600.6 1271.6 613.4 1279.9 629.6 C1288.2 645.8 1296.3 662.3 1304.6 683.4 C1312.9 704.5 1321.4 732.9 1329.5 756.3 C1337.6 779.7 1345.0 800.3 1353.1 823.8 C1361.2 847.3 1369.7 872.2 1377.9 897.3 C1386.1 922.4 1394.1 949.0 1402.1 974.2 C1410.1 999.4 1417.9 1023.7 1425.9 1048.4 C1433.9 1073.1 1442.0 1099.3 1450.0 1122.3 C1458.0 1145.3 1465.8 1165.5 1473.6 1186.6 C1481.4 1207.7 1489.1 1230.1 1496.9 1249.1 C1504.7 1268.1 1512.6 1283.7 1520.4 1300.8 C1528.2 1317.9 1536.2 1336.3 1544.0 1351.7 C1551.8 1367.1 1559.5 1379.9 1567.3 1393.2 C1575.1 1406.5 1582.9 1420.3 1590.9 1431.3 C1598.9 1442.3 1607.3 1451.2 1615.3 1459.4 C1623.2 1467.7 1630.9 1473.9 1638.6 1480.8 C1646.3 1487.7 1653.9 1495.2 1661.6 1500.9 C1669.3 1506.6 1677.0 1510.6 1684.6 1515.1 C1692.2 1519.6 1699.6 1524.0 1707.1 1527.7 C1714.6 1531.4 1721.9 1534.6 1729.4 1537.1 C1736.9 1539.6 1744.6 1541.2 1752.1 1542.9 C1759.5 1544.6 1766.8 1545.7 1774.1 1547.0 C1781.4 1548.3 1788.7 1549.9 1796.1 1551.0 C1803.5 1552.1 1810.8 1553.0 1818.3 1553.7 C1825.8 1554.4 1833.5 1554.4 1841.1 1555.3 C1848.7 1556.2 1856.1 1558.3 1863.8 1559.0 C1871.5 1559.7 1879.2 1559.1 1887.1 1559.2 C1895.0 1559.3 1903.0 1559.4 1911.2 1559.4 C1919.4 1559.4 1928.0 1559.4 1936.2 1559.4 C1944.5 1559.4 1952.5 1559.4 1960.7 1559.4 C1968.9 1559.4 1977.1 1559.4 1985.2 1559.4 C1993.3 1559.4 2001.5 1559.4 2009.6 1559.4 C2017.7 1559.4 2025.7 1559.4 2034.0 1559.4 C2042.3 1559.4 2051.0 1559.4 2059.4 1559.4 C2067.8 1559.4 2075.8 1559.4 2084.3 1559.4 C2092.8 1559.4 2101.9 1559.4 2110.4 1559.4 C2118.9 1559.4 2126.9 1559.4 2135.4 1559.4 C2143.9 1559.4 2152.8 1559.4 2161.5 1559.4 C2170.2 1559.4 2178.6 1559.4 2187.4 1559.4 C2196.2 1559.4 2205.4 1559.4 2214.2 1559.4 C2223.0 1559.4 2231.8 1559.4 2240.3 1559.4 C2248.8 1559.4 2257.1 1559.4 2265.3 1559.4 C2273.5 1559.4 2281.3 1559.4 2289.3 1559.4 C2297.3 1559.4 2306.3 1559.4 2313.5 1559.4 C2320.7 1559.4 2329.3 1559.4 2332.5 1559.4"/>
<g fill="#fff" stroke="#0000FF" stroke-width="3.0">
<rect x="310.8" y="1518.2" width="27.7" height="27.7"/>
<rect x="319.8" y="1517.1" width="27.7" height="27.7"/>
<rect x="330.1" y="1514.6" width="27.7" height="27.7"/>
<rect x="341.2" y="1510.6" width="27.7" height="27.7"/>
<rect x="355.6" y="1505.1" width="27.7" height="27.7"/>
<rect x="372.5" y="1496.2" width="27.7" height="27.7"/>
<rect x="390.5" y="1481.5" width="27.7" height="27.7"/>
<rect x="410.6" y="1464.6" width="27.7" height="27.7"/>
<rect x="432.2" y="1435.2" width="27.7" height="27.7"/>
<rect x="453.6" y="1396.2" width="27.7" height="27.7"/>
<rect x="476.2" y="1345.0" width="27.7" height="27.7"/>
<rect x="501.0" y="1275.4" width="27.7" height="27.7"/>
<rect x="525.1" y="1189.4" width="27.7" height="27.7"/>
<rect x="550.5" y="1101.4" width="27.7" height="27.7"/>
<rect x="575.4" y="1006.2" width="27.7" height="27.7"/>
<rect x="601.1" y="920.5" width="27.7" height="27.7"/>
<rect x="628.2" y="851.4" width="27.7" height="27.7"/>
<rect x="653.1" y="798.1" width="27.7" height="27.7"/>
<rect x="679.6" y="767.9" width="27.7" height="27.7"/>
<rect x="707.2" y="755.2" width="27.7" height="27.7"/>
<rect x="733.4" y="747.8" width="27.7" height="27.7"/>
<rect x="761.4" y="749.6" width="27.7" height="27.7"/>
<rect x="788.4" y="748.2" width="27.7" height="27.7"/>
<rect x="815.8" y="742.4" width="27.7" height="27.7"/>
<rect x="843.0" y="733.5" width="27.7" height="27.7"/>
<rect x="870.6" y="712.6" width="27.7" height="27.7"/>
<rect x="897.4" y="687.1" width="27.7" height="27.7"/>
<rect x="923.8" y="659.4" width="27.7" height="27.7"/>
<rect x="950.5" y="623.8" width="27.7" height="27.7"/>
<rect x="977.9" y="590.2" width="27.7" height="27.7"/>
<rect x="1005.4" y="560.2" width="27.7" height="27.7"/>
<rect x="1032.2" y="532.1" width="27.7" height="27.7"/>
<rect x="1058.2" y="507.2" width="27.7" height="27.7"/>
<rect x="1085.0" y="491.9" width="27.7" height="27.7"/>
<rect x="1111.8" y="482.0" width="27.7" height="27.7"/>
<rect x="1138.1" y="477.2" width="27.7" height="27.7"/>
<rect x="1164.2" y="486.5" width="27.7" height="27.7"/>
<rect x="1190.2" y="507.2" width="27.7" height="27.7"/>
<rect x="1215.8" y="529.4" width="27.7" height="27.7"/>
<rect x="1241.2" y="572.4" width="27.7" height="27.7"/>
<rect x="1266.1" y="615.8" width="27.7" height="27.7"/>
<rect x="1290.8" y="669.5" width="27.7" height="27.7"/>
<rect x="1315.7" y="742.4" width="27.7" height="27.7"/>
<rect x="1339.2" y="809.9" width="27.7" height="27.7"/>
<rect x="1364.1" y="883.4" width="27.7" height="27.7"/>
<rect x="1388.2" y="960.4" width="27.7" height="27.7"/>
<rect x="1412.1" y="1034.6" width="27.7" height="27.7"/>
<rect x="1436.2" y="1108.5" width="27.7" height="27.7"/>
<rect x="1459.8" y="1172.8" width="27.7" height="27.7"/>
<rect x="1483.1" y="1235.2" width="27.7" height="27.7"/>
<rect x="1506.6" y="1287.0" width="27.7" height="27.7"/>
<rect x="1530.2" y="1337.9" width="27.7" height="27.7"/>
<rect x="1553.5" y="1379.4" width="27.7" height="27.7"/>
<rect x="1577.1" y="1417.5" width="27.7" height="27.7"/>
<rect x="1601.5" y="1445.6" width="27.7" height="27.7"/>
<rect x="1624.8" y="1467.0" width="27.7" height="27.7"/>
<rect x="1647.8" y="1487.1" width="27.7" height="27.7"/>
<rect x="1670.8" y="1501.2" width="27.7" height="27.7"/>
<rect x="1693.2" y="1513.9" width="27.7" height="27.7"/>
<rect x="1715.6" y="1523.2" width="27.7" height="27.7"/>
<rect x="1738.2" y="1529.1" width="27.7" height="27.7"/>
<rect x="1760.2" y="1533.2" width="27.7" height="27.7"/>
<rect x="1782.2" y="1537.2" width="27.7" height="27.7"/>
<rect x="1804.5" y="1539.9" width="27.7" height="27.7"/>
<rect x="1827.2" y="1541.5" width="27.7" height="27.7"/>
<rect x="1850.0" y="1545.2" width="27.7" height="27.7"/>
<rect x="1873.2" y="1545.4" width="27.7" height="27.7"/>
<rect x="1897.4" y="1545.6" width="27.7" height="27.7"/>
<rect x="1922.4" y="1545.6" width="27.7" height="27.7"/>
<rect x="1946.9" y="1545.6" width="27.7" height="27.7"/>
<rect x="1971.4" y="1545.6" width="27.7" height="27.7"/>
<rect x="1995.8" y="1545.6" width="27.7" height="27.7"/>
<rect x="2020.2" y="1545.6" width="27.7" height="27.7"/>
<rect x="2045.6" y="1545.6" width="27.7" height="27.7"/>
<rect x="2070.5" y="1545.6" width="27.7" height="27.7"/>
<rect x="2096.6" y="1545.6" width="27.7" height="27.7"/>
<rect x="2121.6" y="1545.6" width="27.7" height="27.7"/>
<rect x="2147.7" y="1545.6" width="27.7" height="27.7"/>
<rect x="2173.6" y="1545.6" width="27.7" height="27.7"/>
<rect x="2200.3" y="1545.6" width="27.7" height="27.7"/>
<rect x="2226.5" y="1545.6" width="27.7" height="27.7"/>
<rect x="2251.5" y="1545.6" width="27.7" height="27.7"/>
<rect x="2275.5" y="1545.6" width="27.7" height="27.7"/>
<rect x="2299.7" y="1545.6" width="27.7" height="27.7"/>
<rect x="2318.7" y="1545.6" width="27.7" height="27.7"/>
</g>
</g>
<line x1="1572" y1="290.7" x2="1736" y2="290.7" stroke="#F92EFB" stroke-width="8" stroke-linecap="round"/>
<g fill="#fff" stroke="#F92EFB" stroke-width="3.3" stroke-linejoin="bevel"><path d="M1653.8 271.6L1657.9 284.8L1671.1 284.8L1660.4 293.0L1664.5 306.2L1653.8 298.0L1643.1 306.2L1647.2 293.0L1636.5 284.8L1649.7 284.8Z"/></g>
<line x1="1572" y1="386.8" x2="1736" y2="386.8" stroke="#0000FF" stroke-width="8" stroke-linecap="round"/>
<g fill="#fff" stroke="#0000FF" stroke-width="3.0"><rect x="1639.8" y="373.3" width="27.7" height="27.7"/></g>
<text transform="translate(1777.8,320.6) scale(0.953,1)" font-size="76" font-weight="bold" style="fill:#F92EFB">H-SAPO-34</text>
<text transform="translate(1777.5,416.6) scale(0.956,1)" font-size="76" font-weight="bold" style="fill:#0000FF">Cu-SAPO-34</text>
</svg></body></html>
